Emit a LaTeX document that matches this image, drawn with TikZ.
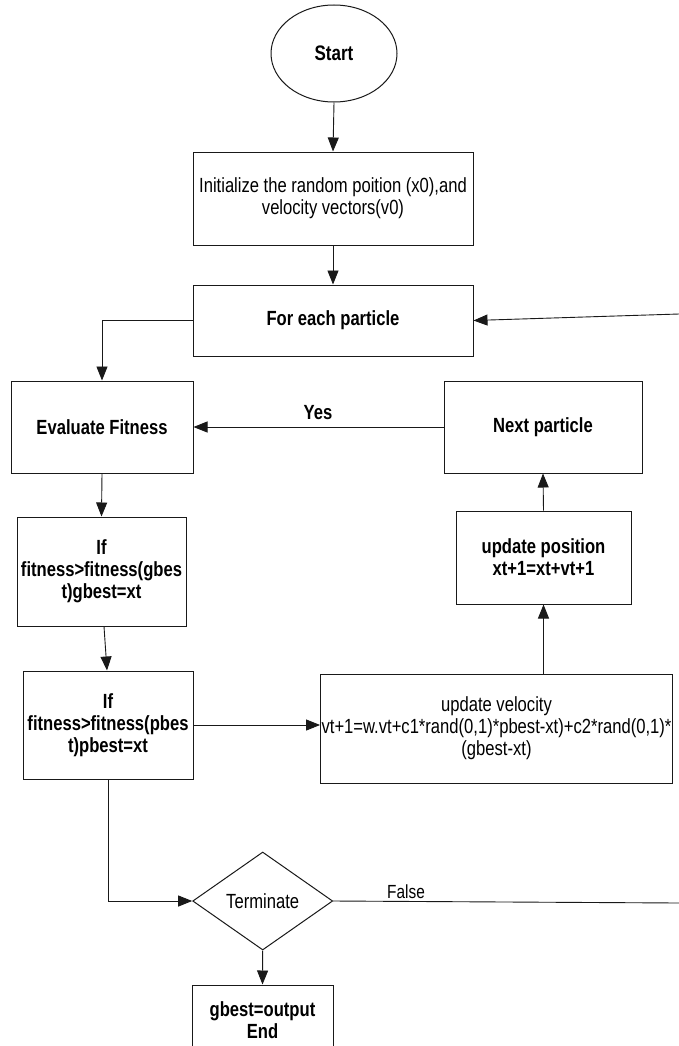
\documentclass[tikz,border=0pt]{standalone}
\usepackage{fontspec}
\setmainfont{Liberation Sans}[FakeStretch=0.81]
\usetikzlibrary{shapes.geometric,arrows.meta}
\begin{document}
\begin{tikzpicture}[x=1pt,y=-1pt,
  box/.style={draw=black!90,line width=1pt,rectangle,inner sep=1pt,align=center,font=\fontsize{20.5}{22}\selectfont},
  bbox/.style={box,font=\fontsize{20.5}{22}\selectfont\bfseries},
  arr/.style={draw=black!90,line width=0.9pt,-{Triangle[length=14pt,width=11pt]}},
  ln/.style={draw=black!90,line width=0.9pt},
  lblb/.style={font=\fontsize{20.5}{22}\selectfont\bfseries,inner sep=0pt},
  lbl/.style={font=\fontsize{19}{20}\selectfont,inner sep=0pt}]
\useasboundingbox (0,0) rectangle (679,1046);
\clip (0,0) rectangle (679,1046);
\fill[white] (0,0) rectangle (679,1046);

\node[draw=black!90,line width=1pt,ellipse,minimum width=126pt,minimum height=97pt,inner sep=0pt,font=\fontsize{21}{22}\selectfont\bfseries] (start) at (334,53.5) {Start};
\node[box,minimum width=280pt,minimum height=93pt] (init) at (333,198.5) {Initialize the random poition (x0),and\\velocity vectors(v0)};
\node[bbox,minimum width=280pt,minimum height=71pt] (for) at (333,320.5) {For each particle};
\node[bbox,minimum width=182pt,minimum height=92pt] (eval) at (102,427) {Evaluate Fitness};
\node[bbox,minimum width=198pt,minimum height=92pt] (next) at (543,427) {Next particle};
\node[bbox,minimum width=169pt,minimum height=109pt] (gb) at (101.5,571.5) {If\\fitness>fitness(gbes\\t)gbest=xt};
\node[bbox,minimum width=170pt,minimum height=108pt] (pb) at (108,725) {If\\fitness>fitness(pbes\\t)pbest=xt};
\node[box,minimum width=349pt,minimum height=109pt] (vel) at (496.5,728.5) {update velocity\\vt+1=w.vt+c1*rand(0,1)*pbest-xt)+c2*rand(0,1)*\\(gbest-xt)};
\node[bbox,minimum width=175pt,minimum height=93pt] (pos) at (543.5,557.5) {update position\\xt+1=xt+vt+1};
\node[draw=black!90,line width=1pt,diamond,minimum width=140pt,minimum height=98pt,inner sep=0pt,font=\fontsize{20.5}{22}\selectfont] (term) at (262.7,901) {Terminate};
\node[bbox,minimum width=141pt,minimum height=70pt] (endb) at (262.5,1020) {gbest=output\\End};

\coordinate (rin) at (679,314);
\coordinate (rout) at (679,903);

\draw[arr] (start.south) -- (init.north);
\draw[arr] (init.south) -- (for.north);
\draw[arr] (for.west) -| (eval.north);
\draw[arr] (rin) -- (for.east);
\draw[arr] (next.west) -- (eval.east);
\node[lblb] (yes) at (318,413) {Yes};
\draw[arr] (eval.south) -- (gb.north);
\draw[arr] ([xshift=2.5pt]gb.south) -- ([xshift=-1pt]pb.north);
\draw[arr] (pb.east) -- ([yshift=3.5pt]vel.west);
\draw[arr] (pos.south |- vel.north) -- (pos.south);
\draw[arr] (pos.north) -- (next.south);
\draw[arr] (pb.south) |- (term.west);
\draw[ln] (term.east) -- (rout);
\node[lbl] (false) at (406,892) {False};
\draw[arr] (term.south) -- (endb.north);
\end{tikzpicture}
\end{document}
